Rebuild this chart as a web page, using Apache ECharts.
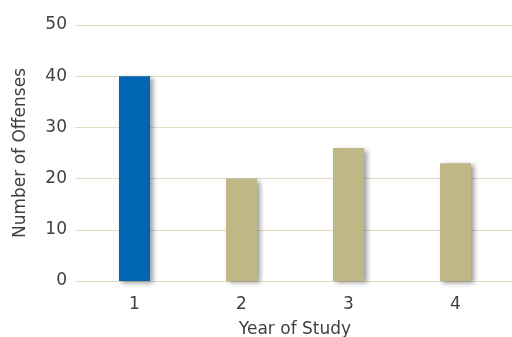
<!DOCTYPE html>
<html>
<head>
<meta charset="utf-8">
<script src="https://cdn.jsdelivr.net/npm/echarts@6/dist/echarts.min.js"></script>
<style>
html,body{margin:0;padding:0;background:#fff;}
#chart{width:512px;height:337px;}
</style>
</head>
<body>
<div id="chart"></div>
<script>
const years = ['1', '2', '3', '4'];
const offenses = [40, 20, 26, 23];
const barColors = ['#0066b3', '#bfb886', '#bfb886', '#bfb886'];
const yTicks = { min: 0, max: 50, interval: 10 };

const chart = echarts.init(document.getElementById('chart'), null, { renderer: 'canvas' });
const gridColor = '#dfdbc4';
const textColor = '#404040';
const font = 'DejaVu Sans';

chart.setOption({
  animation: false,
  backgroundColor: '#ffffff',
  grid: { left: 81, right: 3, top: 25, bottom: 56, containLabel: false, outerBoundsMode: 'none' },
  xAxis: {
    type: 'category',
    data: years,
    name: 'Year of Study',
    nameLocation: 'middle',
    nameGap: 40,
    nameTextStyle: { color: textColor, fontSize: 17, fontFamily: font },
    axisLine: { show: false },
    axisTick: { show: false },
    axisLabel: { color: textColor, fontSize: 17, fontFamily: font, margin: 15 }
  },
  yAxis: [{
    type: 'value',
    min: yTicks.min,
    max: yTicks.max,
    interval: yTicks.interval,
    name: 'Number of Offenses',
    nameLocation: 'middle',
    nameGap: 52,
    nameTextStyle: { color: textColor, fontSize: 17, fontFamily: font },
    axisLine: { show: false },
    axisTick: { show: true, length: 6, lineStyle: { color: gridColor, width: 1 } },
    axisLabel: { color: textColor, fontSize: 17, fontFamily: font, margin: 14, padding: [4, 0, 0, 0] },
    splitLine: { show: true, lineStyle: { color: gridColor, width: 1 } }
  }, {
    type: 'value',
    position: 'right',
    min: yTicks.min,
    max: yTicks.max,
    interval: yTicks.interval,
    axisLine: { show: false },
    axisTick: { show: true, length: 4, lineStyle: { color: gridColor, width: 1 } },
    axisLabel: { show: false },
    splitLine: { show: false }
  }],
  series: [{
    type: 'bar',
    barWidth: 31,
    data: offenses.map((v, i) => ({
      value: v,
      itemStyle: { color: barColors[i] }
    })),
    itemStyle: {
      shadowColor: 'rgba(0,0,0,0.4)',
      shadowBlur: 5,
      shadowOffsetX: 3,
      shadowOffsetY: 2
    }
  }]
});
</script>
</body>
</html>
